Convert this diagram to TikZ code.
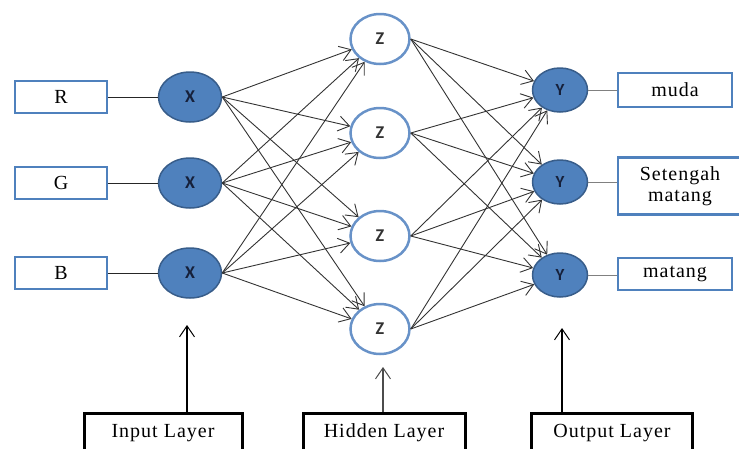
\documentclass[tikz,border=0pt]{standalone}
\usepackage{fontspec}
\setmainfont[LetterSpace=5]{Liberation Serif}
\newfontfamily\neuronfont{Carlito}
\usetikzlibrary{positioning}
\usetikzlibrary{arrows.meta}
\usetikzlibrary{shapes.geometric}
\definecolor{nblue}{RGB}{79,129,189}
\definecolor{nborder}{RGB}{56,93,138}
\definecolor{zborder}{RGB}{104,146,200}
\definecolor{xtext}{RGB}{22,32,58}

\begin{document}
\begin{tikzpicture}[
    x=1pt, y=-1pt,
    xneuron/.style={ellipse, draw=nborder, line width=1.5pt, fill=nblue, inner sep=0pt,
        minimum width=63pt, minimum height=50pt, font=\neuronfont\bfseries\fontsize{18}{20}\selectfont, text=xtext},
    zneuron/.style={ellipse, draw=zborder, line width=2.5pt, fill=white, inner sep=0pt,
        minimum width=59pt, minimum height=50pt, font=\neuronfont\bfseries\fontsize{18}{20}\selectfont, text=black!80},
    yneuron/.style={ellipse, draw=nborder, line width=1.5pt, fill=nblue, inner sep=0pt,
        minimum width=55pt, minimum height=44pt, font=\neuronfont\bfseries\fontsize{17}{19}\selectfont, text=xtext},
    labelbox/.style={rectangle, draw=nblue, line width=2.5pt, fill=white, inner sep=0pt,
        minimum width=92pt, minimum height=32pt, font=\fontsize{20}{21}\selectfont, align=center},
    layerbox/.style={rectangle, draw=black, line width=3pt, fill=white, inner sep=0pt,
        minimum height=40pt, font=\fontsize{20}{22}\selectfont},
    link/.style={line width=0.9pt, black!80, -{Straight Barb[length=11pt, width=15pt, line width=0.9pt]}},
    >={Straight Barb[length=11pt, width=15pt, line width=1pt]}
]
    \useasboundingbox (0,0) rectangle (739,448);

    % --- Input layer ---
    \foreach \n/\y/\t in {1/97/R, 2/183/G, 3/273/B} {
        \node[labelbox] (in\n) at (61,\y) {\t};
        \node[xneuron] (x\n) at (190,\y) {X};
        \draw[line width=0.9pt, black!85] (in\n) -- (x\n);
    }

    % --- Hidden layer ---
    \foreach \n/\y in {1/39, 2/133, 3/236, 4/329} {
        \node[zneuron] (z\n) at (380,\y) {Z};
    }

    % --- Output layer ---
    \node[yneuron] (y1) at (560,90) {Y};
    \node[yneuron] (y2) at (560,182) {Y};
    \node[yneuron] (y3) at (560,275) {Y};
    \node[labelbox, minimum width=114pt, minimum height=34pt] (out1) at (675,90) {muda};
    \node[labelbox, minimum width=124pt, minimum height=57pt] (out2) at (680,186) {Setengah\\matang};
    \node[labelbox, minimum width=114pt] (out3) at (675,274) {matang};
    \foreach \n in {1,2,3} {
        \draw[line width=0.9pt, black!50] (y\n) -- (out\n.west |- y\n);
    }

    % --- Connections ---
    \foreach \i in {1,2,3} {
        \foreach \j in {1,2,3,4} {
            \draw[link] (x\i.east) -- (z\j);
        }
    }
    \foreach \i in {1,2,3,4} {
        \foreach \j in {1,2,3} {
            \draw[link] (z\i.east) -- (y\j);
        }
    }

    % --- Layer labels ---
    \node[layerbox, minimum width=158pt] (inLayer) at (163,433) {Input Layer};
    \node[layerbox, minimum width=162pt] (hidLayer) at (384,433) {Hidden Layer};
    \node[layerbox, minimum width=161pt] (outLayer) at (612,433) {Output Layer};
    \coordinate (inTip) at (187,325);
    \coordinate (hidTip) at (383,367);
    \coordinate (outTip) at (562,328);
    \draw[->, line width=1.2pt] (inTip |- inLayer.north) -- (inTip);
    \draw[->, line width=1.2pt, black!70] (hidTip |- hidLayer.north) -- (hidTip);
    \draw[->, line width=1.2pt] (outTip |- outLayer.north) -- (outTip);
\end{tikzpicture}
\end{document}
